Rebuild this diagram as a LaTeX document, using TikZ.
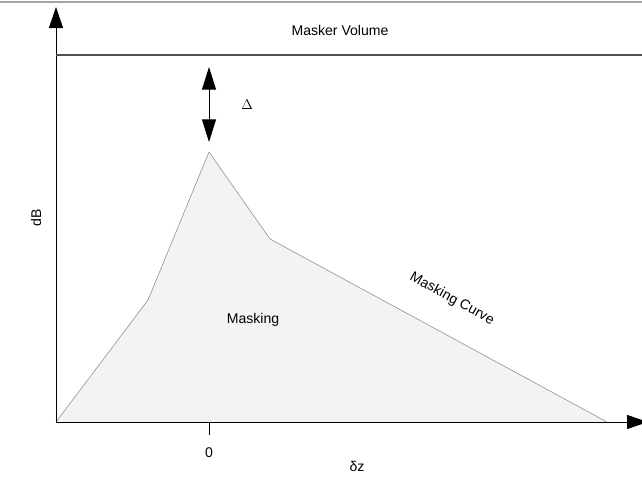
\documentclass[tikz,border=0pt]{standalone}
\usepackage{fontspec}
\setmainfont{Liberation Sans}
\usetikzlibrary{arrows.meta}
\definecolor{maskfill}{RGB}{243,243,243}
\definecolor{curveline}{RGB}{145,145,145}
\definecolor{volline}{RGB}{80,80,80}
\definecolor{topline}{RGB}{165,165,165}
\begin{document}
\begin{tikzpicture}[x=0.03cm,y=-0.03cm]
\tikzstyle{every node}=[font=\fontsize{12}{14}\selectfont,inner sep=1pt]
\tikzstyle{axis}=[line width=0.8pt,-{Triangle[length=0.63cm,width=0.42cm]}]
\tikzstyle{gap}=[line width=0.8pt,{Triangle[length=0.68cm,width=0.42cm]}-{Triangle[length=0.68cm,width=0.42cm]}]
\useasboundingbox (0,0) rectangle (642,478);
\draw[topline,line width=2.5pt] (0,2) -- (642,2);
% corner points of the curve
\coordinate (origin) at (56,422);
\coordinate (knee) at (148,300);
\coordinate (peak) at (209,152);
\coordinate (bend) at (270,239);
\coordinate (tail) at (607,422);
\coordinate (ytop) at (56,7);
\coordinate (xend) at (648,422);
\coordinate (vol) at (56,55);
\coordinate (volend) at (642,55);
\coordinate (zero) at (209,422);
\coordinate (ticktip) at (209,435);
\coordinate (dtop) at (209,67);
\coordinate (dbot) at (209,142);
\fill[maskfill] (origin) -- (knee) -- (peak) -- (bend) -- (tail) -- cycle;
\draw[curveline,line width=0.5pt] (origin) -- (knee) -- (peak) -- (bend) -- (tail);
\draw[axis] (origin) -- (ytop);
\draw[axis] (origin) -- (xend);
\draw[volline,line width=1.6pt] (vol) -- (volend);
\draw[line width=0.8pt] (zero) -- (ticktip);
\draw[gap] (dtop) -- (dbot);
\node (vollabel) at (340,30) {Masker Volume};
\node (delta) at (247,105) {$\Delta$};
\node (zerolabel) at (209,453) {0};
\node (dzlabel) at (357,466) {δz};
\node[rotate=90] (dblabel) at (36,218) {dB};
\node (masking) at (253,320) {Masking};
\node[rotate=-29] (curvelabel) at (452,299) {Masking Curve};
\end{tikzpicture}
\end{document}
